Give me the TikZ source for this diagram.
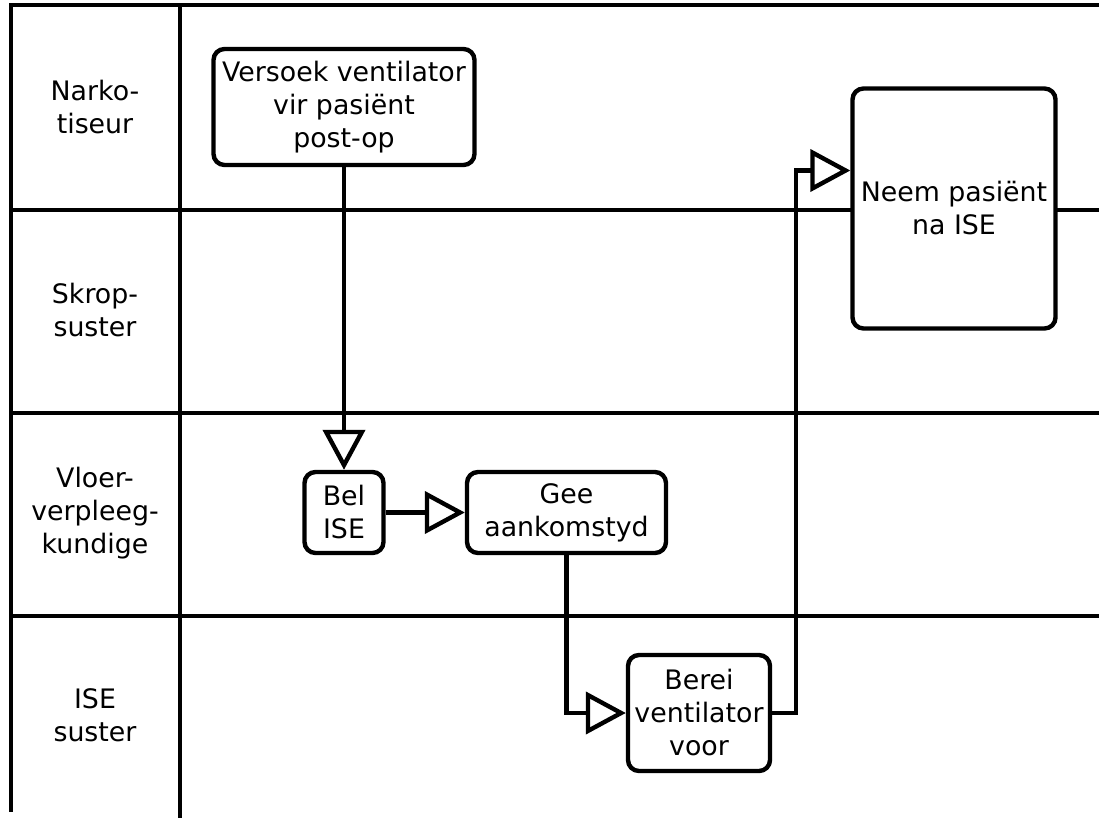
\documentclass[tikz,border=0pt]{standalone}
\usepackage{fontspec}
\setmainfont{DejaVu Sans}
\usetikzlibrary{arrows.meta,calc}
\tikzset{
  lane/.style={line width=4.4pt, line cap=rect},
  task/.style={draw, line width=4.4pt, rounded corners=11pt, fill=white,
    align=center, inner sep=0pt},
  lanelabel/.style={align=center, inner sep=0pt},
  flow/.style={line width=4.4pt, -{Triangle[open, length=40pt, width=42pt]}}
}
\begin{document}
\begin{tikzpicture}[x=1pt, y=-1pt, font=\fontsize{26.8}{33}\selectfont]
\useasboundingbox (0,0) rectangle (1099,818);

% swimlane grid
\draw[lane] (11,5) -- (1099,5);
\draw[lane] (11,5) -- (11,810);
\draw[lane] (180,5) -- (180,818);
\draw[lane] (11,210) -- (1099,210);
\draw[lane] (11,413) -- (1099,413);
\draw[lane] (11,616) -- (1099,616);

% lane titles
\node[lanelabel] (l1) at (95,107) {Narko-\\tiseur};
\node[lanelabel] (l2) at (95,310) {Skrop-\\suster};
\node[lanelabel] (l3) at (95,513) {Vloer-\\verpleeg-\\kundige};
\node[lanelabel] (l4) at (95,715) {ISE\\suster};

% activities
\node[task, minimum width=261pt, minimum height=116pt] (versoek) at (344,107)
  {Versoek ventilator\\vir pasiënt\\post-op};
\node[task, minimum width=79pt, minimum height=81pt] (bel) at (344,512.5)
  {Bel\\ISE};
\node[task, minimum width=199pt, minimum height=81pt] (gee) at (566.5,512.5)
  {Gee\\aankomstyd};
\node[task, minimum width=142pt, minimum height=116pt] (berei) at (699,713)
  {Berei\\ventilator\\voor};
\node[task, minimum width=203pt, minimum height=240pt] (neem) at (954,208.5)
  {Neem pasiënt\\na ISE};

% flows
\coordinate (turn) at (796,0);
\draw[flow] (versoek.south) -- (bel.north);
\draw[flow] (bel.east) -- (gee.west);
\draw[flow, rounded corners=0pt] (gee.south) |- (berei.west);
\draw[flow] (berei.east) -- (berei.east -| turn) |- ($(neem.west)+(0,-38)$);
\end{tikzpicture}
\end{document}
